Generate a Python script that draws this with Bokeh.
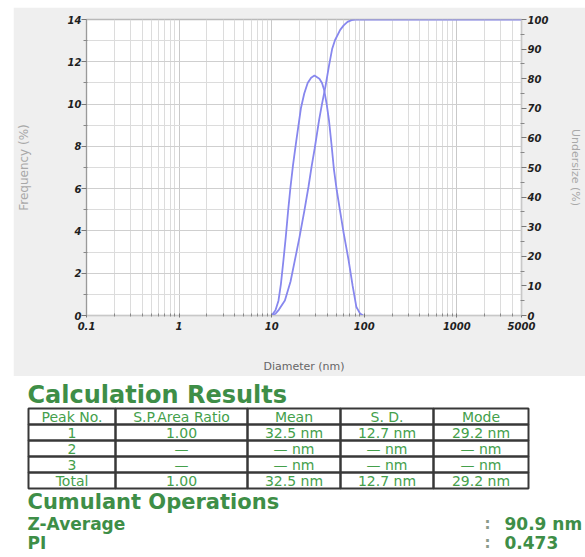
from bokeh.plotting import figure
from bokeh.models import Range1d, LinearAxis, FixedTicker, NumeralTickFormatter, Spacer
from bokeh.layouts import column, row
from bokeh.embed import file_html
from bokeh.resources import INLINE
from bokeh.core.properties import value

# ---------------- data ----------------
diameter_freq = [10.0, 11.0, 11.85, 12.6, 13.4, 14.2, 15.1, 16.0, 17.0, 18.5, 20.7, 22.5,
                 24.5, 26.7, 29.0, 32.8, 35.0, 37.0, 39.3, 41.7, 44.3, 47.1, 50.6, 54.6,
                 60.0, 67.9, 75.0, 82.3, 90.0, 97.6]
frequency = [0.0, 0.25, 0.7, 1.5, 2.6, 3.7, 5.0, 6.1, 7.1, 8.3, 9.8, 10.5,
             11.0, 11.25, 11.35, 11.2, 11.0, 10.65, 10.0, 9.2, 8.1, 6.9, 5.9, 5.0,
             3.9, 2.6, 1.4, 0.4, 0.1, 0.0]

diameter_cum = [10.0, 11.0, 12.0, 13.9, 16.0, 17.8, 20.0, 22.6, 25.0, 27.0, 29.2, 32.6,
                35.0, 38.2, 41.7, 45.0, 48.3, 55.0, 60.0, 66.0, 73.0, 80.0, 5000.0]
undersize = [0.0, 0.6, 2.0, 5.1, 11.5, 18.6, 26.5, 35.5, 43.5, 50.3, 56.5, 66.2,
             71.5, 77.5, 84.5, 90.0, 93.0, 96.5, 98.0, 99.2, 99.8, 100.0, 100.0]

x_major_ticks = [0.1, 1, 10, 100, 1000, 5000]
x_minor_ticks = [m * 10.0 ** e for e in range(-1, 4) for m in range(2, 10) if m * 10.0 ** e < 5000]
freq_ticks = [0, 2, 4, 6, 8, 10, 12, 14]
freq_minor = [1, 3, 5, 7, 9, 11, 13]
cum_ticks = [0, 10, 20, 30, 40, 50, 60, 70, 80, 90, 100]
cum_minor = [5, 15, 25, 35, 45, 55, 65, 75, 85, 95]

title_results = "Calculation Results"
table_headers = ["Peak No.", "S.P.Area Ratio", "Mean", "S. D.", "Mode"]
peak_no = ["1", "2", "3", "Total"]
area_ratio = ["1.00", "\u2014", "\u2014", "1.00"]
mean_nm = ["32.5 nm", "\u2014 nm", "\u2014 nm", "32.5 nm"]
sd_nm = ["12.7 nm", "\u2014 nm", "\u2014 nm", "12.7 nm"]
mode_nm = ["29.2 nm", "\u2014 nm", "\u2014 nm", "29.2 nm"]
title_cumulant = "Cumulant Operations"
cumulant_names = ["Z-Average", "PI"]
cumulant_values = ["90.9 nm", "0.473"]

# ---------------- chart ----------------
CURVE = "#8787ee"
FONT = "DejaVu Sans"

p = figure(width=572, height=369, x_axis_type="log",
           x_range=Range1d(0.1, 5000), y_range=Range1d(0, 14),
           output_backend="svg", toolbar_location=None,
           min_border_left=68, min_border_right=58, min_border_top=12, min_border_bottom=61,
           background_fill_color="white", border_fill_color="#efefef",
           outline_line_color="#b9b9b9", outline_line_width=1.5)
p.extra_y_ranges = {"cum": Range1d(0, 100)}
raxis = LinearAxis(y_range_name="cum")
p.add_layout(raxis, "right")

p.xaxis.ticker = FixedTicker(ticks=x_major_ticks, minor_ticks=x_minor_ticks)
p.xaxis.formatter = NumeralTickFormatter(format="0.[0]")
p.yaxis[0].ticker = FixedTicker(ticks=freq_ticks, minor_ticks=freq_minor)
raxis.ticker = FixedTicker(ticks=cum_ticks, minor_ticks=cum_minor)

p.xgrid.grid_line_color = "#c9c9c9"
p.xgrid.minor_grid_line_color = "#dcdcdc"
p.ygrid.grid_line_color = "#cfcfcf"
p.ygrid.minor_grid_line_color = "#dcdcdc"

for ax in [p.xaxis[0], p.yaxis[0], raxis]:
    ax.major_label_text_font = FONT
    ax.major_label_text_font_size = "10px"
    ax.major_label_text_font_style = "bold italic"
    ax.major_label_text_color = "#1e1e1e"
    ax.axis_label_text_font = FONT
    ax.axis_label_text_font_style = "normal"
    ax.major_tick_line_color = "#777777"
    ax.minor_tick_line_color = "#888888"

xa = p.xaxis[0]
xa.axis_label = "Diameter (nm)"
xa.axis_label_text_font_size = "11px"
xa.axis_label_text_color = "#666666"
xa.axis_label_standoff = 27
xa.axis_line_color = "#c8c8c8"
xa.major_tick_in = 2
xa.major_tick_out = 2
xa.minor_tick_in = 2
xa.minor_tick_out = 1
xa.major_label_standoff = 4

ya = p.yaxis[0]
ya.axis_label = "Frequency (%)"
ya.axis_label_text_font_size = "12px"
ya.axis_label_text_color = "#a8a8a8"
ya.axis_label_standoff = 34
ya.axis_line_color = "#9a9a9a"
ya.major_tick_in = 0
ya.major_tick_out = 5
ya.minor_tick_in = 1
ya.minor_tick_out = 3
ya.major_label_standoff = 0

raxis.axis_label = "Undersize (%)"
raxis.axis_label_text_font_size = "11px"
raxis.axis_label_text_color = "#a8a8a8"
raxis.axis_label_standoff = 18
raxis.axis_line_color = "#c8c8c8"
raxis.major_tick_in = 0
raxis.major_tick_out = 5
raxis.minor_tick_in = 1
raxis.minor_tick_out = 3
raxis.major_label_standoff = 1

p.line(diameter_freq, frequency, line_color=CURVE, line_width=1.8)
p.line(diameter_cum, undersize, line_color=CURVE, line_width=1.8, y_range_name="cum")

# ---------------- results table ----------------
GREEN_T = "#3e8e47"
GREEN = "#44a04b"
q = figure(width=585, height=181, x_range=Range1d(0, 585), y_range=Range1d(181, 0),
           output_backend="svg", toolbar_location=None, min_border=0,
           background_fill_color="white", border_fill_color="white", outline_line_color=None)
q.axis.visible = False
q.grid.visible = False

left0 = 27
q.text(x=[left0], y=[18], text=[title_results], text_font=value(FONT), text_font_size="24px",
       text_font_style="bold", text_color=GREEN_T, text_baseline="middle")

col_edges = [28, 115, 247, 340, 433, 528]
table_top = 32
row_h = 16
columns = [peak_no, area_ratio, mean_nm, sd_nm, mode_nm]
n_rows = len(peak_no) + 1

cl, cr, ct, cb = [], [], [], []
tx, ty, tt = [], [], []
for c in range(len(columns)):
    for r in range(n_rows):
        cl.append(col_edges[c]); cr.append(col_edges[c + 1])
        ct.append(table_top + r * row_h); cb.append(table_top + (r + 1) * row_h)
        tx.append((col_edges[c] + col_edges[c + 1]) / 2)
        ty.append(table_top + (r + 0.5) * row_h)
        tt.append(table_headers[c] if r == 0 else columns[c][r - 1])
q.quad(left=cl, right=cr, top=ct, bottom=cb, fill_color=None, line_color="#383838", line_width=2)
q.text(x=tx, y=ty, text=tt, text_font=value(FONT), text_font_size="14px", text_color=GREEN,
       text_align="center", text_baseline="middle")

q.text(x=[left0], y=[125], text=[title_cumulant], text_font=value(FONT), text_font_size="21px",
       text_font_style="bold", text_color=GREEN_T, text_baseline="middle")
cum_y = [147, 166]
q.text(x=[left0] * 2, y=cum_y, text=cumulant_names, text_font=value(FONT), text_font_size="17px",
       text_font_style="bold", text_color=GREEN_T, text_baseline="middle")
q.text(x=[484] * 2, y=cum_y, text=[":"] * 2, text_font=value(FONT), text_font_size="15px",
       text_font_style="bold", text_color="#8a9a8a", text_baseline="middle")
q.text(x=[504] * 2, y=cum_y, text=cumulant_values, text_font=value(FONT), text_font_size="17px",
       text_font_style="bold", text_color=GREEN_T, text_baseline="middle")

layout = column(Spacer(width=585, height=7),
                row(Spacer(width=13, height=369), p),
                q)
open("out.html", "w").write(file_html(layout, INLINE))
